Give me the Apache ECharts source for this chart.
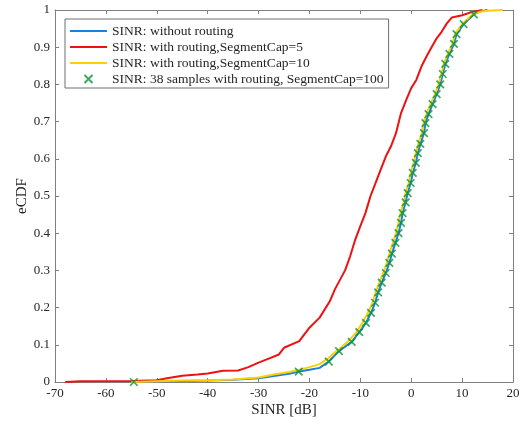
<!DOCTYPE html>
<html>
<head>
<meta charset="utf-8">
<script src="https://cdn.jsdelivr.net/npm/echarts@6/dist/echarts.min.js"></script>
<style>html,body{margin:0;padding:0;background:#fff;}#c{width:530px;height:426px;}</style>
</head>
<body>
<div id="c"></div>
<script>
// ---- data ----
var xTicks = [-70, -60, -50, -40, -30, -20, -10, 0, 10, 20];
var yTicks = [0, 0.1, 0.2, 0.3, 0.4, 0.5, 0.6, 0.7, 0.8, 0.9, 1];

var seriesNames = [
  'SINR: without routing',
  'SINR: with routing,SegmentCap=5',
  'SINR: with routing,SegmentCap=10',
  'SINR: 38 samples with routing, SegmentCap=100'
];

var blueSinr = [-55, -50, -45, -40, -35, -30, -27, -24, -22.1, -20, -18, -16.2, -14.2, -11.7, -10.2, -8.9, -7.9, -7.1, -6.5, -5.8, -5.0, -4.3, -3.8, -3.1, -2.5, -2.0, -1.7, -1.1, -0.7, -0.1, 0.3, 0.9, 1.3, 1.8, 2.5, 2.8, 3.4, 4.2, 5.0, 5.7, 6.2, 6.7, 7.5, 8.4, 8.9, 10.3, 12.3, 13.5, 15];
var blueCdf  = [0, 0.002, 0.003, 0.004, 0.006, 0.01, 0.016, 0.022, 0.028, 0.033, 0.038, 0.055, 0.083, 0.108, 0.134, 0.159, 0.186, 0.213, 0.241, 0.267, 0.293, 0.32, 0.345, 0.374, 0.40, 0.428, 0.454, 0.483, 0.508, 0.535, 0.562, 0.589, 0.615, 0.64, 0.669, 0.696, 0.72, 0.747, 0.774, 0.80, 0.828, 0.855, 0.882, 0.909, 0.935, 0.962, 0.988, 0.996, 1.0];

var redSinr = [-68, -65, -55, -50, -48, -45, -42, -40, -37, -34, -32, -30, -28, -26, -25, -22, -20, -18, -16, -15, -13, -12, -11, -10, -9, -8, -7, -6, -5, -4, -3, -2, -1, 0, 1, 2, 3, 4, 5, 6, 7, 8, 10, 12, 14];
var redCdf  = [0, 0.002, 0.003, 0.005, 0.01, 0.017, 0.02, 0.023, 0.03, 0.031, 0.04, 0.052, 0.063, 0.074, 0.092, 0.11, 0.146, 0.173, 0.217, 0.249, 0.30, 0.338, 0.383, 0.419, 0.454, 0.50, 0.535, 0.571, 0.606, 0.633, 0.669, 0.723, 0.758, 0.79, 0.812, 0.848, 0.875, 0.90, 0.924, 0.942, 0.964, 0.98, 0.986, 0.995, 1.0];

var yellowSinr = [-55, -50, -45, -40, -35, -30, -27, -24, -22, -20, -18, -16.5, -15, -14, -12.5, -11, -9.6, -8.5, -7.6, -7.0, -6.3, -5.5, -4.8, -4.3, -3.6, -3.0, -2.5, -2.1, -1.5, -1.1, -0.5, -0.1, 0.5, 0.9, 1.4, 2.1, 2.4, 3.0, 3.8, 4.7, 5.4, 5.9, 6.4, 7.2, 8.1, 8.6, 10.0, 12.0, 13.5, 15, 18];
var yellowCdf  = [0, 0.002, 0.004, 0.005, 0.007, 0.012, 0.02, 0.027, 0.033, 0.04, 0.048, 0.062, 0.08, 0.09, 0.108, 0.13, 0.159, 0.186, 0.213, 0.241, 0.267, 0.293, 0.32, 0.345, 0.374, 0.40, 0.428, 0.454, 0.483, 0.508, 0.535, 0.562, 0.589, 0.615, 0.64, 0.669, 0.696, 0.72, 0.747, 0.774, 0.80, 0.828, 0.855, 0.882, 0.909, 0.935, 0.962, 0.988, 0.995, 0.998, 1.0];

var sampleSinr = [-54.5, -22.1, -16.2, -14.2, -11.7, -10.2, -8.9, -7.9, -7.1, -6.5, -5.8, -5.0, -4.3, -3.8, -3.1, -2.5, -2.0, -1.7, -1.1, -0.7, -0.1, 0.3, 0.9, 1.3, 1.8, 2.5, 2.8, 3.4, 4.2, 5.0, 5.7, 6.2, 6.7, 7.5, 8.4, 8.9, 10.3, 12.3];
var sampleCdf  = [0, 0.028, 0.055, 0.083, 0.108, 0.134, 0.159, 0.186, 0.213, 0.241, 0.267, 0.293, 0.32, 0.345, 0.374, 0.40, 0.428, 0.454, 0.483, 0.508, 0.535, 0.562, 0.589, 0.615, 0.64, 0.669, 0.696, 0.72, 0.747, 0.774, 0.80, 0.828, 0.855, 0.882, 0.909, 0.935, 0.962, 0.988];

function zip(a, b) { return a.map(function (v, i) { return [v, b[i]]; }); }

var FONT = 'Liberation Serif';
var TXT = '#262626';
var AX = '#808080';
var BLUE = '#1a80e0', RED = '#ee1111', YEL = '#ffd000', GRN = '#0d9438';
var xPath = 'path://M0,0 L10,10 M10,0 L0,10';
var linePath = 'path://M0,0 L36,0 L36,2 L0,2 Z';

var chart = echarts.init(document.getElementById('c'), null, {renderer: 'canvas'});

function xAxisDef(pos, showLabels) {
  return {
    type: 'value', position: pos, min: -70, max: 20, interval: 10,
    axisLine: {show: true, onZero: false, lineStyle: {color: AX, width: 1}},
    axisTick: {show: true, inside: true, length: 4, lineStyle: {color: AX}},
    axisLabel: {show: showLabels, color: TXT, fontFamily: FONT, fontSize: 13, margin: 5,
      formatter: function (v) { return xTicks.indexOf(v) >= 0 ? String(v) : ''; }},
    splitLine: {show: false},
    name: showLabels ? 'SINR [dB]' : '', nameLocation: 'middle', nameGap: 21, nameMoveOverlap: false,
    nameTextStyle: {color: TXT, fontFamily: FONT, fontSize: 15}
  };
}
function yAxisDef(pos, showLabels) {
  return {
    type: 'value', position: pos, min: 0, max: 1, interval: 0.1,
    axisLine: {show: true, onZero: false, lineStyle: {color: AX, width: 1}},
    axisTick: {show: true, inside: true, length: 4, lineStyle: {color: AX}},
    axisLabel: {show: showLabels, color: TXT, fontFamily: FONT, fontSize: 13, margin: 5,
      formatter: function (v) { var r = Math.round(v * 10) / 10; return yTicks.indexOf(r) >= 0 ? String(r) : ''; }},
    splitLine: {show: false},
    name: showLabels ? 'eCDF' : '', nameLocation: 'middle', nameGap: 25, nameMoveOverlap: false,
    nameTextStyle: {color: TXT, fontFamily: FONT, fontSize: 15}
  };
}

chart.setOption({
  animation: false,
  backgroundColor: '#fff',
  grid: {left: 55, right: 17, top: 10, bottom: 44, containLabel: false},
  xAxis: [xAxisDef('bottom', true), xAxisDef('top', false)],
  yAxis: [yAxisDef('left', true), yAxisDef('right', false)],
  legend: {
    orient: 'vertical', left: 65, top: 19,
    padding: [4, 5, 1, 5], itemGap: 0, itemWidth: 37, itemHeight: 8,
    backgroundColor: '#fff', borderColor: '#6e6e6e', borderWidth: 1, borderRadius: 0,
    textStyle: {color: TXT, fontFamily: FONT, fontSize: 13.5, lineHeight: 16},
    data: [
      {name: seriesNames[0], icon: linePath},
      {name: seriesNames[1], icon: linePath},
      {name: seriesNames[2], icon: linePath},
      {name: seriesNames[3], icon: xPath}
    ]
  },
  series: [
    {name: seriesNames[0], type: 'line', data: zip(blueSinr, blueCdf),
      symbol: 'none', lineStyle: {color: BLUE, width: 2}, itemStyle: {color: BLUE}, z: 2},
    {name: seriesNames[1], type: 'line', data: zip(redSinr, redCdf),
      symbol: 'none', lineStyle: {color: RED, width: 2}, itemStyle: {color: RED}, z: 3},
    {name: seriesNames[2], type: 'line', data: zip(yellowSinr, yellowCdf),
      symbol: 'none', lineStyle: {color: YEL, width: 2}, itemStyle: {color: YEL}, z: 4},
    {name: seriesNames[3], type: 'scatter', data: zip(sampleSinr, sampleCdf),
      symbol: xPath, symbolSize: 7.5,
      itemStyle: {color: 'none', borderColor: GRN, borderWidth: 1.7}, z: 5}
  ]
});
</script>
</body>
</html>
